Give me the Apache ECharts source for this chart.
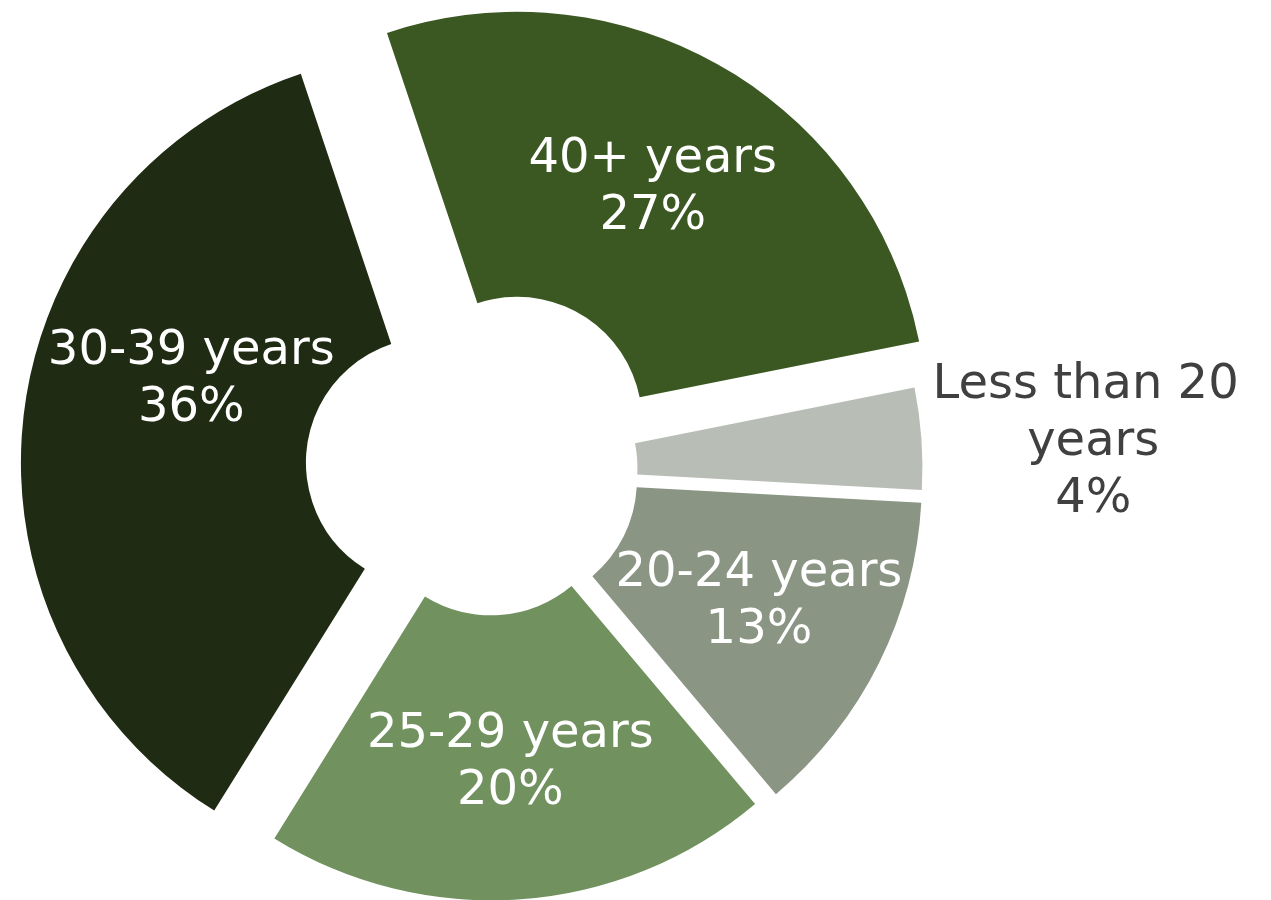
<!DOCTYPE html>
<html><head><meta charset="utf-8">
<script src="https://cdn.jsdelivr.net/npm/echarts@6/dist/echarts.min.js"></script>
<style>html,body{margin:0;padding:0;background:#fff}#chart{width:1271px;height:900px}</style>
</head><body><div id="chart"></div>
<script>
const categories = ['Less than 20 years', '20-24 years', '25-29 years', '30-39 years', '40+ years'];
const shares = [4, 13, 20, 36, 27];

const colors = ['#B8BDB5', '#8A9583', '#71915F', '#1F2C13', '#3B5823'];
const labelColors = ['#404040', '#ffffff', '#ffffff', '#ffffff', '#ffffff'];
const explode = [23, 25, 21, 59, 55];
const labelShift = [[311, -6], [5, 1], [0, 3], [29, -51], [0, 0]];
const baseCenter = [489.5, 469.4];
const startAngle = 11.3;
const radii = [125, 410];

const total = shares.reduce((a, b) => a + b, 0);
let cum = 0;
const series = categories.map((name, i) => {
  const mid = startAngle - (cum + shares[i] / 2) / total * 360;
  cum += shares[i];
  const a = mid * Math.PI / 180;
  const cx = baseCenter[0] + explode[i] * Math.cos(a);
  const cy = baseCenter[1] - explode[i] * Math.sin(a);
  return {
    type: 'pie',
    center: [cx, cy],
    radius: radii,
    startAngle: startAngle,
    clockwise: true,
    avoidLabelOverlap: false,
    silent: true,
    animation: false,
    labelLayout: { dx: labelShift[i][0], dy: labelShift[i][1] },
    data: categories.map((n, j) => ({
      name: n,
      value: shares[j],
      itemStyle: { color: j === i ? colors[j] : 'rgba(0,0,0,0)', borderWidth: 0 },
      label: j === i ? {
        show: true,
        position: 'inside',
        formatter: '{b}\n{d}%',
        color: labelColors[j],
        fontFamily: 'DejaVu Sans, Verdana, sans-serif',
        fontSize: 48,
        lineHeight: 57,
        width: i === 0 ? 340 : undefined,
        overflow: i === 0 ? 'break' : 'none'
      } : { show: false },
      labelLine: { show: false }
    }))
  };
});

const chart = echarts.init(document.getElementById('chart'), null, { renderer: 'canvas' });
chart.setOption({
  backgroundColor: '#ffffff',
  animation: false,
  series: series
});
</script>
</body></html>
